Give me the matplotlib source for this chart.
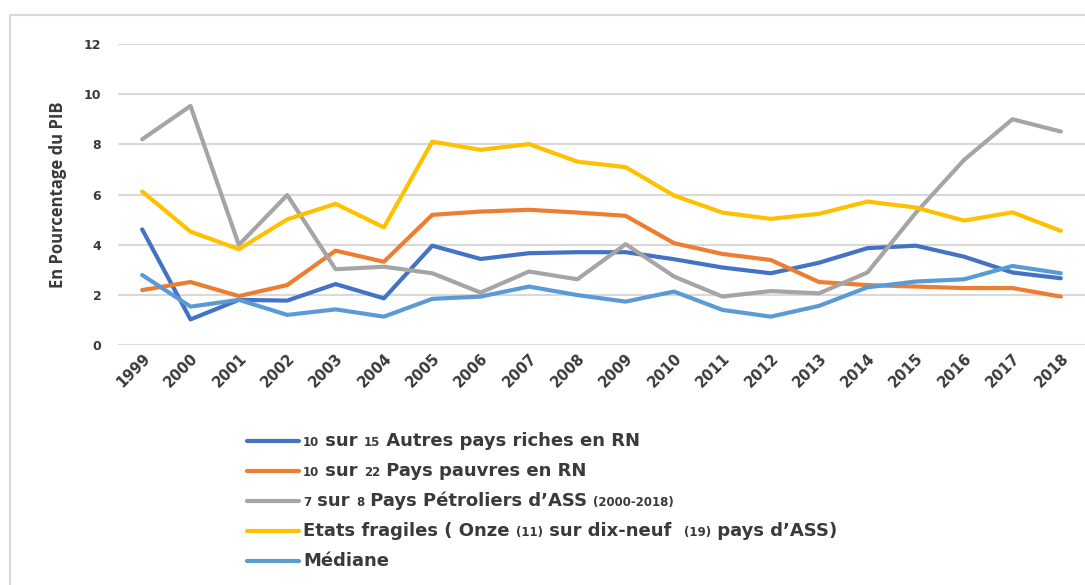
import matplotlib
matplotlib.use("Agg")
import matplotlib.pyplot as plt
from matplotlib.lines import Line2D
from matplotlib.patches import Rectangle

years = list(range(1999, 2019))
riches = [4.61, 1.02, 1.80, 1.77, 2.43, 1.86, 3.96, 3.43, 3.66, 3.70,
          3.70, 3.42, 3.09, 2.86, 3.28, 3.86, 3.96, 3.52, 2.89, 2.66]
pauvres = [2.19, 2.51, 1.95, 2.39, 3.76, 3.32, 5.19, 5.32, 5.39, 5.28,
           5.15, 4.06, 3.63, 3.39, 2.51, 2.39, 2.33, 2.27, 2.27, 1.93]
petroliers = [8.20, 9.53, 3.99, 5.98, 3.02, 3.12, 2.86, 2.09, 2.93, 2.62,
              4.02, 2.73, 1.93, 2.15, 2.06, 2.89, 5.27, 7.38, 9.00, 8.51]
fragiles = [6.12, 4.52, 3.82, 5.01, 5.63, 4.69, 8.11, 7.78, 8.01, 7.31,
            7.09, 5.96, 5.28, 5.03, 5.23, 5.72, 5.48, 4.96, 5.29, 4.55]
mediane = [2.79, 1.53, 1.80, 1.20, 1.42, 1.13, 1.84, 1.93, 2.33, 1.99,
           1.73, 2.13, 1.40, 1.13, 1.56, 2.30, 2.53, 2.62, 3.15, 2.86]

series = [riches, pauvres, petroliers, fragiles, mediane]
colors = ["#4472C4", "#ED7D31", "#A5A5A5", "#FFC000", "#5B9BD5"]
# legend labels as (text, is_small) segments
labels = [
    [("10", True), (" sur ", False), ("15", True), (" Autres pays riches en RN", False)],
    [("10", True), (" sur ", False), ("22", True), (" Pays pauvres en RN", False)],
    [("7", True), (" sur ", False), ("8", True), (" Pays Pétroliers d’ASS ", False), ("(2000-2018)", True)],
    [("Etats fragiles ( Onze ", False), ("(11)", True), (" sur dix-neuf  ", False),
     ("(19)", True), (" pays d’ASS)", False)],
    [("Médiane", False)],
]
yticks = [0, 2, 4, 6, 8, 10, 12]
ylabel = "En Pourcentage du PIB"

FONT = "DejaVu Sans"
LFONT = "Open Sans"
TXT = "#3a3a3a"
W, H = 1085, 585
fig = plt.figure(figsize=(W / 100, H / 100), dpi=100)

# outer frame (left and top edges visible)
fig.add_artist(Line2D([10 / W, 10 / W, 1.0], [0.0, 1 - 15 / H, 1 - 15 / H],
                      transform=fig.transFigure, color="#D9D9D9", linewidth=1.5))

ax = fig.add_axes([118 / W, (H - 345) / H, 967 / W, 301 / H])
for s, c in zip(series, colors):
    ax.plot(years, s, color=c, linewidth=3.0, solid_capstyle="round", solid_joinstyle="round")
ax.set_xlim(1998.5, 2018.5)
ax.set_ylim(0, 12)
ax.set_yticks(yticks)
ax.set_xticks(years)
ax.set_xticklabels([str(y) for y in years], rotation=45, ha="right", va="top",
                   rotation_mode="anchor", fontfamily=FONT, fontweight="bold",
                   fontsize=10.5, color=TXT)
ax.set_yticklabels([str(v) for v in yticks], fontfamily=FONT, fontweight="bold",
                   fontsize=9, color=TXT)
ax.tick_params(length=0)
ax.tick_params(axis="x", pad=4)
ax.tick_params(axis="y", pad=12)
ax.grid(axis="y", color="#D9D9D9", linewidth=1.5)
ax.set_axisbelow(True)
for sp in ax.spines.values():
    sp.set_visible(False)
ax.set_ylabel(ylabel, fontfamily=LFONT, fontweight="bold", fontsize=12, color=TXT, labelpad=12)

# custom legend with mixed font sizes
renderer = fig.canvas.get_renderer()
row_y = [441, 471, 501, 531, 561]
for segs, c, yy in zip(labels, colors, row_y):
    yf = (H - yy) / H
    fig.add_artist(Line2D([247 / W, 299 / W], [yf, yf], transform=fig.transFigure,
                          color=c, linewidth=3.0, solid_capstyle="round"))
    x = 303
    yb = (H - yy - 5) / H
    for txt, small in segs:
        t = fig.text(x / W, yb, txt, fontfamily=FONT, fontweight="bold",
                     fontsize=8.5 if small else 13, color=TXT, va="baseline", ha="left")
        bb = t.get_window_extent(renderer=renderer)
        x += bb.width

fig.savefig("out.png", dpi=100)
